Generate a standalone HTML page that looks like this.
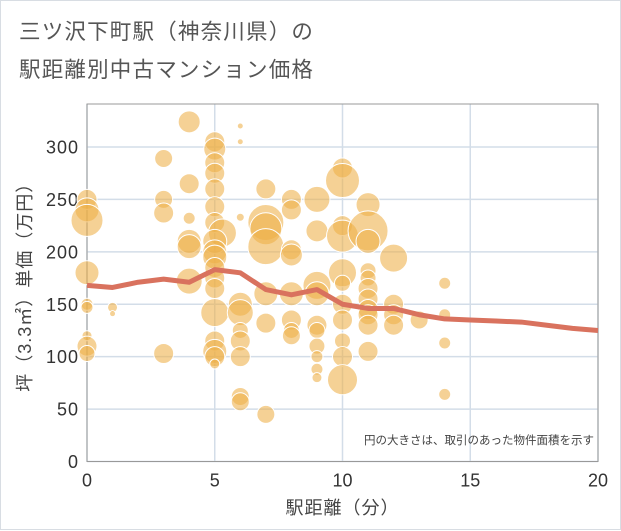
<!DOCTYPE html>
<html><head><meta charset="utf-8"><style>
html,body{margin:0;padding:0;background:#fff;}
#card{position:relative;width:619px;height:528px;border:1px solid #d8dde3;background:#fff;font-family:"Liberation Sans","Noto Sans CJK JP",sans-serif;}
.title{position:absolute;left:18px;font-size:21.5px;color:#555;letter-spacing:1.2px;white-space:nowrap;}
svg{position:absolute;left:0;top:0;}
</style></head><body>
<div id="card">
<div class="title" style="top:14px">三ツ沢下町駅（神奈川県）の</div>
<div class="title" style="top:52px">駅距離別中古マンション価格</div>
<svg id="chart" width="621" height="530"></svg>
</div>
<script>
const bubbleX=[0,0,0,0,0,0,0,0,0,1,1,3,3,3,3,4,4,4,4,4,4,5,5,5,5,5,5,5,5.3,5,5,5,5,5,5,5,5,5,5,5,6,6,6,6,6,6,6,6,6,6,7,7,7,7,7,7,7,8,8,8,8,8,8,8,8,9,9,9,9,9,9,9,9,9,9,10,10,10,10,10,10,10,10,10,10,10,11,11,11,11,11,11,11,11,11,11,11,12,12,12,12,13,14,14,14,14];
const bubbleY=[250,240,230,180,150,147,120,110,103,147,141,289,250,237,103,324,265,232,210,205,172,305,298,285,275,260,243,228,218,210,200,195,185,175,165,142,115,105,100,93,320,305,233,150,142,125,115,100,62,57,260,228,222,205,160,132,45,250,240,202,197,160,135,125,120,250,220,168,160,130,125,110,100,88,80,280,268,225,215,180,170,150,135,115,100,78,245,220,210,182,175,165,155,145,140,130,105,194,150,140,130,135,170,140,113,64];
const bubbleR=[10,12,16,12,6,6,5,10,8,5,3,9,9,10,10,11,10,6,12,12,13,10,11,10,10,10,10,10,14,12,12,12,10,10,10,14,10,12,10,5,3,3,4,12,13,8,10,10,9,9,10,18,16,18,12,10,9,10,10,10,11,12,10,8,9,13,11,14,12,10,8,8,6,6,5,10,17,10,16,14,8,10,10,8,10,15,12,20,12,8,8,10,10,10,10,10,10,14,10,10,10,9,6,6,6,6];
const lineX=[0,1,2,3,4,5,6,7,8,9,10,11,12,13,14,15,16,17,18,19,20];
const lineY=[168,166,171,174,171,183,180,164,159,164,150,146,146,140,136,135,134,133,130,127,125];
const xTicks=[0,5,10,15,20];
const yTicks=[0,50,100,150,200,250,300];
const NS="http://www.w3.org/2000/svg";
const svg=document.getElementById('chart');
const L=86,R=597,T=103,B=460.5;
const xs=v=>L+(v/20)*(R-L);
const ys=v=>B-v*(B-146)/300;
function mk(tag,attrs){const e=document.createElementNS(NS,tag);for(const k in attrs)e.setAttribute(k,attrs[k]);svg.appendChild(e);return e;}
for(const t of yTicks){
 const g=mk('line',{x1:L,x2:R,y1:ys(t),y2:ys(t),stroke:'#d3dde8','stroke-width':1.5});
 
 
 const tx=mk('text',{x:L-8,y:ys(t)+6.5,'text-anchor':'end','font-size':18,fill:'#333','letter-spacing':1,'font-family':'Liberation Sans, sans-serif'});
 tx.textContent=t;
 
 
}
for(const t of xTicks){
 const g=mk('line',{x1:xs(t),x2:xs(t),y1:T,y2:B,stroke:'#d3dde8','stroke-width':1.5});
 
 
 const tx=mk('text',{x:xs(t),y:B+25,'text-anchor':'middle','font-size':18,fill:'#333','font-family':'Liberation Sans, sans-serif'});
 tx.textContent=t;
 
 
}
const fr=mk('rect',{x:L,y:T,width:R-L,height:B-T,fill:'none',stroke:'#999','stroke-width':1});


for(let i=0;i<bubbleX.length;i++){
 const c=mk('circle',{cx:xs(bubbleX[i]),cy:ys(bubbleY[i]),r:bubbleR[i],fill:'rgba(238,176,72,0.58)',stroke:'#fff','stroke-width':1});
 
 
}
const p=mk('polyline',{points:lineX.map((x,i)=>xs(x)+','+ys(lineY[i])).join(' '),fill:'none',stroke:'#d9725e','stroke-width':5,'stroke-linejoin':'round'});


const note=mk('text',{x:593,y:443,'text-anchor':'end','font-size':11.5,fill:'#444','font-family':'Liberation Sans, Noto Sans CJK JP, sans-serif'});
note.textContent='円の大きさは、取引のあった物件面積を示す';


const xt=mk('text',{x:xs(10),y:513,'text-anchor':'middle','font-size':18,fill:'#444','letter-spacing':1,'font-family':'Liberation Sans, Noto Sans CJK JP, sans-serif'});
xt.textContent='駅距離（分）';


const yt=mk('text',{x:0,y:0,'text-anchor':'middle','font-size':18,fill:'#444','letter-spacing':1,'font-family':'Liberation Sans, Noto Sans CJK JP, sans-serif',transform:'translate(30,'+((T+B)/2)+') rotate(-90)'});
yt.textContent='坪（3.3㎡）単価（万円）';


</script>
</body></html>
